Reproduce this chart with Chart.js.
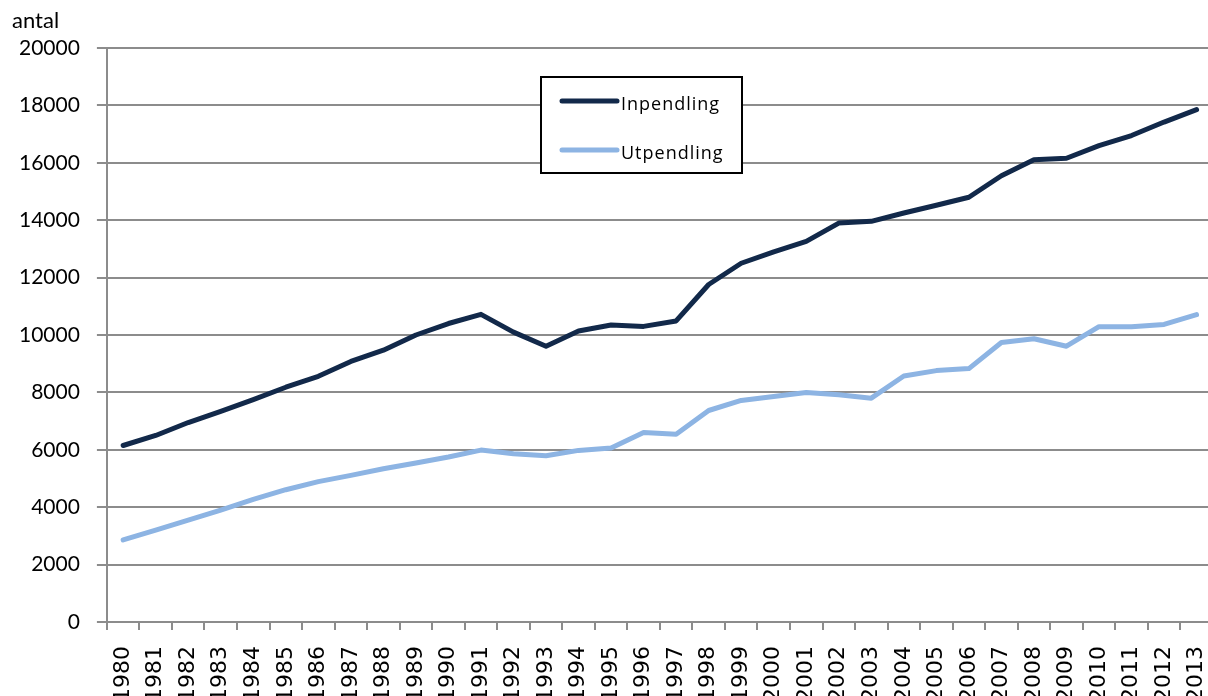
<!DOCTYPE html>
<html>
<head>
<meta charset="utf-8">
<script src="https://cdn.jsdelivr.net/npm/chart.js@4/dist/chart.umd.min.js"></script>
<style>
  html, body { margin: 0; padding: 0; background: #fff; overflow: hidden; }
  #wrap { width: 1208px; height: 696px; overflow: hidden; }
</style>
</head>
<body>
<div id="wrap"><canvas id="pendlingChart" width="1239" height="720"></canvas></div>
<script>
const years = [
    "1980", "1981", "1982", "1983", "1984", "1985", "1986", "1987", "1988", "1989",
    "1990", "1991", "1992", "1993", "1994", "1995", "1996", "1997", "1998", "1999",
    "2000", "2001", "2002", "2003", "2004", "2005", "2006", "2007", "2008", "2009",
    "2010", "2011", "2012", "2013"
];
const inpendling = [
    6150, 6500, 6950, 7340, 7750, 8180, 8560, 9080, 9470, 10000,
    10400, 10720, 10100, 9610, 10140, 10350, 10300, 10490, 11760, 12500,
    12900, 13260, 13900, 13960, 14250, 14520, 14800, 15550, 16110, 16160,
    16600, 16950, 17420, 17850
];
const utpendling = [
    2860, 3200, 3550, 3900, 4270, 4610, 4890, 5110, 5340, 5540,
    5750, 5990, 5860, 5790, 5980, 6060, 6600, 6540, 7370, 7720,
    7860, 8000, 7920, 7800, 8570, 8760, 8830, 9740, 9870, 9610,
    10290, 10290, 10370, 10710
];
const yTicks = { min: 0, max: 20000, step: 2000 };
const unitLabel = "antal";

const gridColor = "#8c8c8c";

// unit text above the y axis and a framed legend box inside the plot
const boxLegend = {
    id: "boxLegend",
    afterDatasetsDraw(chart) {
        const ctx = chart.ctx;
        ctx.save();
        ctx.fillStyle = "#000";
        ctx.font = "22px Lato";
        ctx.textBaseline = "alphabetic";
        ctx.fillText(unitLabel, 12, 28);

        const x = 541, y = 77, w = 201, h = 96;
        ctx.fillStyle = "#fff";
        ctx.fillRect(x, y, w, h);
        ctx.strokeStyle = "#000";
        ctx.lineWidth = 2;
        ctx.strokeRect(x, y, w, h);
        ctx.font = "18px 'Open Sans'";
        ctx.letterSpacing = "1px";
        ctx.fillStyle = "#000";
        chart.data.datasets.forEach((ds, i) => {
            const ly = y + 24 + i * 49;
            ctx.strokeStyle = ds.borderColor;
            ctx.lineWidth = 5;
            ctx.lineCap = "round";
            ctx.beginPath();
            ctx.moveTo(x + 21, ly);
            ctx.lineTo(x + 76, ly);
            ctx.stroke();
            ctx.fillText(ds.label, x + 80, ly + 9);
        });
        ctx.restore();
    }
};

const ctx = document.getElementById("pendlingChart").getContext("2d");
const chart = new Chart(ctx, {
    type: "line",
    data: {
        labels: years,
        datasets: [
            {
                label: "Inpendling",
                data: inpendling,
                borderColor: "#12294a",
                borderWidth: 5,
                pointRadius: 0,
                tension: 0,
                borderCapStyle: "round",
                borderJoinStyle: "round",
                fill: false
            },
            {
                label: "Utpendling",
                data: utpendling,
                borderColor: "#8db4e3",
                borderWidth: 5,
                pointRadius: 0,
                tension: 0,
                borderCapStyle: "round",
                borderJoinStyle: "round",
                fill: false
            }
        ]
    },
    options: {
        responsive: false,
        animation: false,
        layout: { padding: { left: 2, right: 2, top: 48, bottom: 2 } },
        scales: {
            x: {
                type: "category",
                offset: true,
                grid: {
                    offset: true,
                    drawOnChartArea: false,
                    drawTicks: true,
                    tickLength: 8,
                    color: gridColor,
                    lineWidth: 2
                },
                border: { display: true, color: gridColor, width: 2 },
                ticks: {
                    autoSkip: false,
                    minRotation: 90,
                    maxRotation: 90,
                    padding: 16,
                    color: "#000",
                    font: { family: "'DejaVu Sans'", size: 22 }
                }
            },
            y: {
                min: yTicks.min,
                max: yTicks.max,
                grid: {
                    color: gridColor,
                    lineWidth: 2,
                    tickLength: 10
                },
                border: { display: true, color: gridColor, width: 2 },
                ticks: {
                    stepSize: yTicks.step,
                    padding: 17,
                    color: "#000",
                    font: { family: "Lato", size: 21 },
                    callback: (v) => String(v)
                }
            }
        },
        plugins: {
            legend: { display: false },
            tooltip: { enabled: false },
            title: { display: false }
        }
    },
    plugins: [boxLegend]
});
</script>
</body>
</html>
